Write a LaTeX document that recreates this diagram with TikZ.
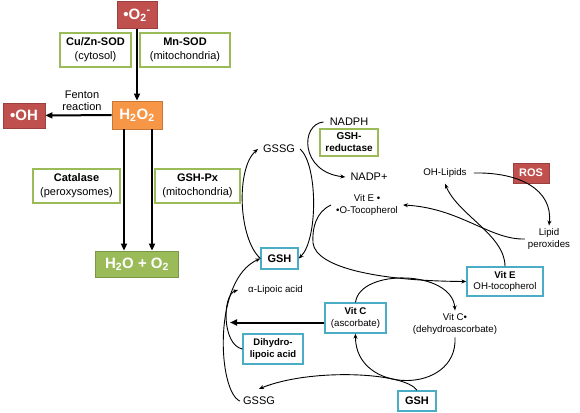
\documentclass[tikz,border=0pt]{standalone}
\usepackage{fontspec}
\setmainfont{Liberation Sans}
\usetikzlibrary{arrows.meta}
\definecolor{cred}{HTML}{C0504D}
\definecolor{corange}{HTML}{F79646}
\definecolor{cgreen}{HTML}{9BBB59}
\definecolor{ccyan}{HTML}{4BACC6}
\begin{document}
\begin{tikzpicture}[x=1pt,y=-1pt,
  redbox/.style={fill=cred, draw=cred!80!black, line width=0.8pt, text=white, inner sep=0pt, font=\bfseries\fontsize{15}{17}\selectfont},
  orangebox/.style={fill=corange, draw=corange!80!black, line width=0.8pt, text=white, inner sep=0pt, font=\bfseries\fontsize{15}{17}\selectfont},
  greenbox/.style={fill=cgreen, draw=cgreen!80!black, line width=0.8pt, text=white, inner sep=0pt, font=\bfseries\fontsize{15}{17}\selectfont},
  enz/.style={draw=cgreen, line width=1.3pt, fill=white, align=center, inner sep=0pt, font=\fontsize{11}{14}\selectfont},
  cyanbox/.style={draw=ccyan, line width=1.3pt, fill=white, align=center, inner sep=0pt},
  lbl/.style={font=\fontsize{11}{13}\selectfont},
  sm/.style={font=\fontsize{9.7}{11.5}\selectfont},
  thickarr/.style={line width=2pt, -{Triangle[length=7pt,width=6pt]}},
  thinarr/.style={line width=0.9pt, -{Stealth[length=5pt,width=4pt]}}
]
\useasboundingbox (0,0) rectangle (580,412);

% left part
\node[redbox, minimum width=40pt, minimum height=27pt] (o2) at (137,15) {•O\textsubscript{2}\textsuperscript{-}};
\node[enz, minimum width=71pt, minimum height=34pt] (cuzn) at (95.5,50) {\textbf{Cu/Zn-SOD}\\(cytosol)};
\node[enz, minimum width=90pt, minimum height=34pt] (mnsod) at (185,50) {\textbf{Mn-SOD}\\(mitochondria)};
\node[orangebox, minimum width=50pt, minimum height=28pt] (h2o2) at (137,115) {H\textsubscript{2}O\textsubscript{2}};
\node[redbox, minimum width=42pt, minimum height=25pt] (oh) at (24,115.5) {•OH};
\node[align=center, font=\fontsize{11}{12}\selectfont] (fenton) at (82,101) {Fenton\\reaction};
\node[enz, minimum width=87pt, minimum height=34pt] (catalase) at (76.5,186) {\textbf{Catalase}\\(peroxysomes)};
\node[enz, minimum width=85pt, minimum height=34pt] (gshpx) at (197.5,186) {\textbf{GSH-Px}\\(mitochondria)};
\node[greenbox, minimum width=83pt, minimum height=26pt] (h2oo2) at (137,264) {H\textsubscript{2}O + O\textsubscript{2}};

\coordinate (ax1) at (124,0);
\coordinate (ax2) at (152,0);
\draw[thickarr] (o2) -- (h2o2);
\draw[thickarr] (h2o2) -- (oh);
\draw[thickarr] (h2o2.south -| ax1) -- (h2oo2.north -| ax1);
\draw[thickarr] (h2o2.south -| ax2) -- (h2oo2.north -| ax2);

% right part: nodes
\node[lbl, inner xsep=5pt] (gssg1) at (279,149) {GSSG};
\node[lbl, inner xsep=6pt] (nadph) at (349,122) {NADPH};
\node[enz, minimum width=58pt, minimum height=27pt, font=\bfseries\fontsize{10}{12}\selectfont] (gshred) at (349,142.5) {GSH-\\reductase};
\node[lbl, inner xsep=5pt] (nadp) at (369,177) {NADP+};
\node[sm, align=center, inner xsep=5pt, inner ysep=2pt] (vite1) at (367,205) {Vit E •\\•O-Tocopherol};
\node[sm, inner xsep=7pt, inner ysep=6pt] (ohlip) at (445,173) {OH-Lipids};
\node[redbox, minimum width=36pt, minimum height=20pt, font=\bfseries\fontsize{11}{13}\selectfont] (ros) at (531,173) {ROS};
\node[sm, align=center, inner sep=3pt] (lipper) at (549,239) {Lipid\\peroxides};
\node[cyanbox, minimum width=76pt, minimum height=29pt, font=\fontsize{9.7}{11.5}\selectfont] (vite) at (505,281.5) {\textbf{Vit E}\\OH-tocopherol};
\node[cyanbox, minimum width=37pt, minimum height=21pt, font=\bfseries\fontsize{11}{13}\selectfont] (gsh1) at (279.5,258.5) {GSH};
\node[sm, anchor=west, inner xsep=10pt] (lipoic) at (238,290) {α-Lipoic acid};
\node[cyanbox, minimum width=61pt, minimum height=30pt, font=\fontsize{9.7}{11.5}\selectfont] (vitc) at (355.5,318) {\textbf{Vit C}\\(ascorbate)};
\node[sm, align=center, inner sep=3pt] (vitc1) at (455,324) {Vit C•\\(dehydroascorbate)};
\node[cyanbox, minimum width=60pt, minimum height=30pt, font=\bfseries\fontsize{9.5}{12.5}\selectfont] (dihydro) at (273,349) {Dihydro-\\lipoic acid};
\node[lbl, inner xsep=3pt, inner ysep=8pt] (gssg2) at (259,401) {GSSG};
\node[cyanbox, minimum width=38pt, minimum height=20pt, font=\bfseries\fontsize{11}{13}\selectfont] (gsh2) at (417,401) {GSH};

% right part: connectors
\draw[thinarr] (gsh1.west) .. controls (238,238) and (236,168) .. (gssg1.west);
\draw[thinarr] (gssg1.east) .. controls (318,165) and (318,240) .. (gsh1.east);
\draw[thinarr] (nadph.west) .. controls (300,124) and (300,172) .. (nadp.west);
\coordinate (m1) at (313,243);
\draw[thinarr] (vite1.west) .. controls (316,212) and (312,228) .. (m1) .. controls (316,268) and (380,281) .. (vite.west);
\draw[thinarr] (ohlip.east) .. controls (520,172) and (553,190) .. (lipper.north);
\draw[thinarr] (vite.north) .. controls (505,235) and (458,215) .. (ohlip.south);
\draw[thinarr] (lipper.west) .. controls (490,240) and (460,208) .. (vite1.east);
\draw[thinarr] (vitc.north) .. controls (360,268) and (452,270) .. (vitc1.north);
\draw[thinarr] (vitc1.south) .. controls (458,395) and (355,395) .. (vitc.south);
\draw[thinarr] (gsh2.north) .. controls (405,372) and (310,368) .. (gssg2.north);
\draw[thinarr] (gssg2.west) .. controls (218,392) and (212,280) .. (gsh1.west);
\draw[thinarr] (dihydro.west) .. controls (222,345) and (222,295) .. (lipoic.west);
\coordinate (vcend) at (230,322.5);
\draw[thickarr] (vitc.west |- vcend) -- (vcend);
\end{tikzpicture}
\end{document}
